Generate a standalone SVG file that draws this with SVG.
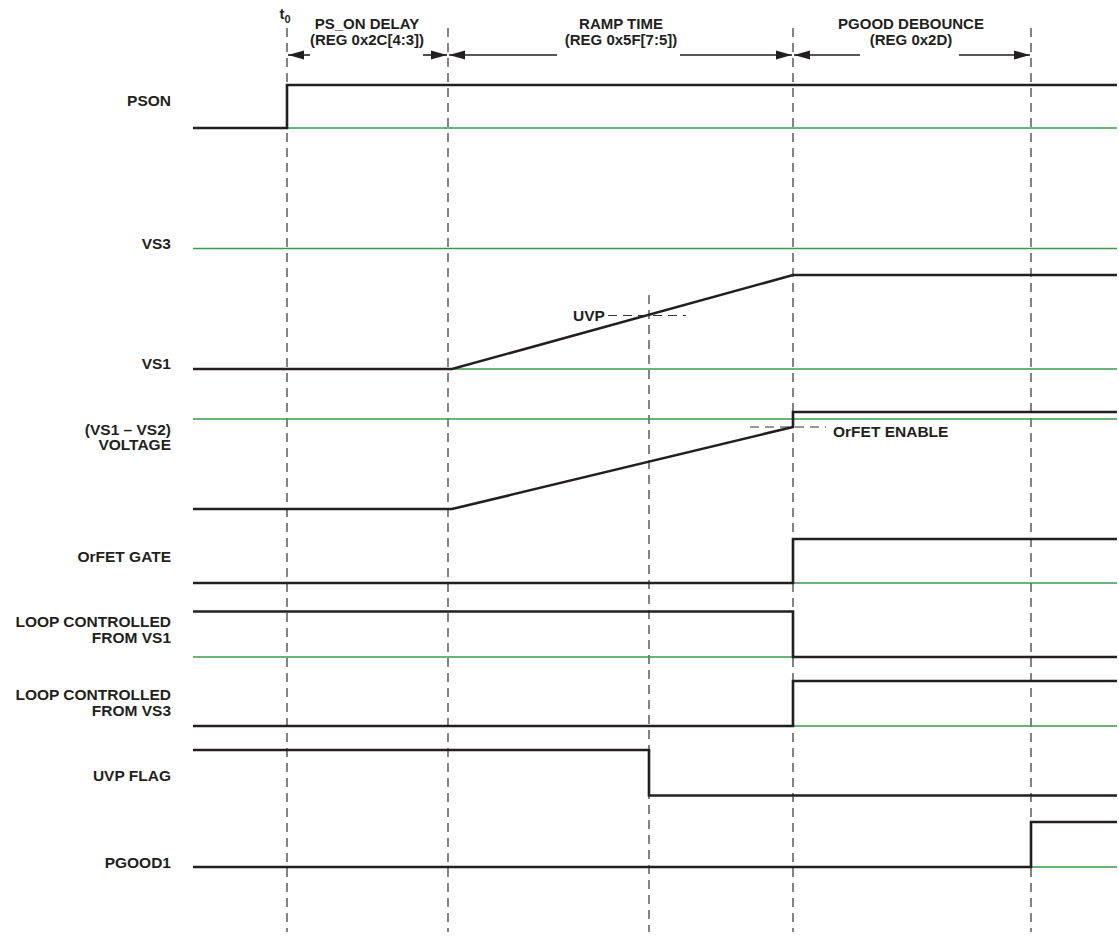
<svg xmlns="http://www.w3.org/2000/svg" width="1119" height="940" viewBox="0 0 1119 940">
<style>
text{font-family:"Liberation Sans",Arial,sans-serif;font-weight:bold;fill:#231f20;font-size:15.5px}
.lbl{text-anchor:end}
.mid{text-anchor:middle;font-size:15px}
.sig{fill:none;stroke:#231f20;stroke-width:2.6;stroke-linejoin:miter}
.ref{fill:none;stroke:#3a9a4c;stroke-width:1.3}
.guide{fill:none;stroke:#333;stroke-width:1.2;stroke-dasharray:9 6}
.arr{fill:none;stroke:#231f20;stroke-width:1.6}
</style>
<defs>
<marker id="ah" viewBox="0 0 16 10" refX="16" refY="5" markerWidth="16" markerHeight="10" markerUnits="userSpaceOnUse" orient="auto-start-reverse">
<path d="M0,0.5 L16,5 L0,9.5 Z" fill="#231f20"/>
</marker>
</defs>
<rect width="1119" height="940" fill="#fff"/>

<g id="connectors">
<line class="guide" x1="287" y1="28" x2="287" y2="932"/>
<line class="guide" x1="448" y1="28" x2="448" y2="932"/>
<line class="guide" x1="793" y1="28" x2="793" y2="932"/>
<line class="guide" x1="1031" y1="28" x2="1031" y2="932"/>
<line class="guide" x1="649" y1="295" x2="649" y2="932"/>
<line class="guide" x1="608" y1="315.5" x2="686" y2="315.5"/>
<line class="guide" x1="750" y1="427" x2="826" y2="427"/>
<line class="arr" x1="310" y1="55" x2="288" y2="55" marker-end="url(#ah)"/>
<line class="arr" x1="423" y1="55" x2="447" y2="55" marker-end="url(#ah)"/>
<line class="arr" x1="557" y1="55" x2="449" y2="55" marker-end="url(#ah)"/>
<line class="arr" x1="680" y1="55" x2="792" y2="55" marker-end="url(#ah)"/>
<line class="arr" x1="860" y1="55" x2="794" y2="55" marker-end="url(#ah)"/>
<line class="arr" x1="959" y1="55" x2="1030" y2="55" marker-end="url(#ah)"/>
</g>

<g id="timing-labels">
<text x="279.5" y="19" style="font-size:15px">t<tspan dy="3.5" style="font-size:11px">0</tspan></text>
<text class="mid" x="367" y="29">PS_ON DELAY</text>
<text class="mid" x="367" y="44.5">(REG 0x2C[4:3])</text>
<text class="mid" x="621" y="29">RAMP TIME</text>
<text class="mid" x="621" y="44.5">(REG 0x5F[7:5])</text>
<text class="mid" x="911" y="29">PGOOD DEBOUNCE</text>
<text class="mid" x="911" y="44.5">(REG 0x2D)</text>
</g>

<g id="pson">
<text class="lbl" x="171" y="105.5">PSON</text>
<line class="ref" x1="287" y1="128" x2="1117" y2="128"/>
<path class="sig" d="M193,128 H287 V85 H1117"/>
</g>

<g id="vs3">
<text class="lbl" x="171" y="249">VS3</text>
<line class="ref" x1="193" y1="248.5" x2="1117" y2="248.5"/>
</g>

<g id="vs1">
<text class="lbl" x="171" y="369">VS1</text>
<line class="ref" x1="453" y1="369" x2="1117" y2="369"/>
<path class="sig" d="M193,369 H452 L793,275 H1117"/>
<text x="573" y="320.5">UVP</text>
</g>

<g id="vs1-vs2">
<text class="lbl" x="171" y="434.5">(VS1 – VS2)</text>
<text class="lbl" x="171" y="450">VOLTAGE</text>
<line class="ref" x1="193" y1="419" x2="1117" y2="419"/>
<path class="sig" d="M193,509 H452 L793,427 V412 H1117"/>
<text x="833" y="436.5">OrFET ENABLE</text>
</g>

<g id="orfet-gate">
<text class="lbl" x="171" y="561.5">OrFET GATE</text>
<line class="ref" x1="793" y1="583" x2="1117" y2="583"/>
<path class="sig" d="M193,583 H793 V539 H1117"/>
</g>

<g id="loop-vs1">
<text class="lbl" x="171" y="627">LOOP CONTROLLED</text>
<text class="lbl" x="171" y="642.5">FROM VS1</text>
<line class="ref" x1="193" y1="657" x2="793" y2="657"/>
<path class="sig" d="M193,611.5 H793 V657 H1117"/>
</g>

<g id="loop-vs3">
<text class="lbl" x="171" y="700">LOOP CONTROLLED</text>
<text class="lbl" x="171" y="715.5">FROM VS3</text>
<line class="ref" x1="793" y1="726" x2="1117" y2="726"/>
<path class="sig" d="M193,726 H793 V681 H1117"/>
</g>

<g id="uvp-flag">
<text class="lbl" x="171" y="780.5">UVP FLAG</text>
<path class="sig" d="M193,750 H649 V795.5 H1117"/>
</g>

<g id="pgood1">
<text class="lbl" x="171" y="868">PGOOD1</text>
<line class="ref" x1="1031" y1="867" x2="1117" y2="867"/>
<path class="sig" d="M193,867 H1031 V822 H1117"/>
</g>
</svg>
